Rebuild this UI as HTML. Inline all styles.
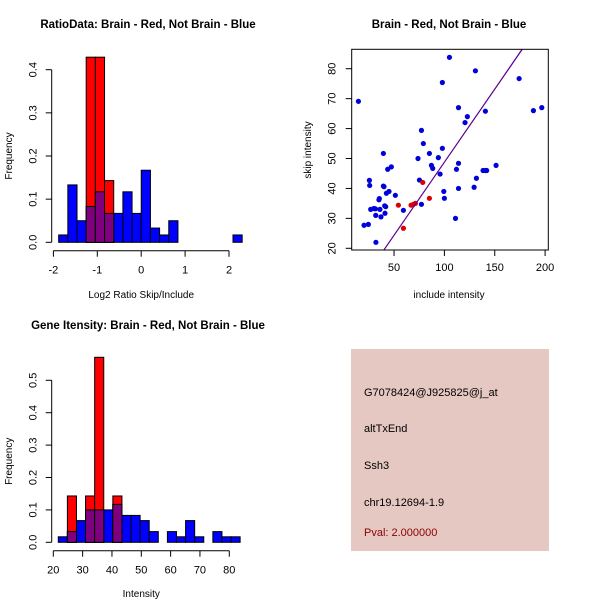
<!DOCTYPE html>
<html><head><meta charset="utf-8"><style>
body{margin:0;background:#fff;}
svg text{font-family:"Liberation Sans",sans-serif;}
</style></head><body>
<svg id="s" width="600" height="600" xmlns="http://www.w3.org/2000/svg">
<rect width="600" height="600" fill="#fff"/>
<g id="p1"></g>
<g id="p2"></g>
<g id="p3"></g>
<g>
<rect x="351" y="349" width="198" height="202" fill="#e6c8c2"/>
<text x="364" y="396" font-size="11">G7078424@J925825@j_at</text>
<text x="364" y="432" font-size="11">altTxEnd</text>
<text x="364" y="469" font-size="11">Ssh3</text>
<text x="364" y="506" font-size="11">chr19.12694-1.9</text>
<text x="364" y="536" font-size="11" fill="#8b0000">Pval: 2.000000</text>
</g>
</svg>
<script>
// Ratio histogram data
const ratioStart = -1.88, ratioWidth = 0.209;
const ratioBlue = [0.017,0.133,0.05,0.083,0.117,0.067,0.067,0.117,0.067,0.167,0.033,0.017,0.05,0,0,0,0,0,0,0.017];
const ratioRed = [0,0,0,0.429,0.429,0.143,0,0,0,0,0,0,0,0,0,0,0,0,0,0];
const ratioXTicks = [-2,-1,0,1,2];
const ratioYTicks = [0,0.1,0.2,0.3,0.4];
// Intensity histogram data
const intStart = 21.7, intWidth = 3.1;
const intBlue = [0.017,0.033,0.067,0.1,0.1,0.1,0.117,0.083,0.083,0.067,0.033,0,0.033,0.017,0.067,0.017,0,0.033,0.017,0.017];
const intRed = [0,0.143,0,0.143,0.571,0,0.143,0,0,0,0,0,0,0,0,0,0,0,0,0];
const intXTicks = [20,30,40,50,60,70,80];
const intYTicks = [0,0.1,0.2,0.3,0.4,0.5];
// Scatter data
const blueX = [14.6,32,20.2,24.5,25.5,25.8,26.8,31.5,31.8,35.4,36,37,39.4,39.4,40.7,41,41.7,42.4,43.7,45,47.3,51.3,59.3,73.8,75.2,77.2,77.2,79.1,85.1,87.1,88.4,94,95.7,98,98,99.4,100,105,111,112,114,114,114,120.5,122.8,129.5,130.8,131.8,138.4,140.7,142,140.7,151.3,174.2,188.4,196.7,35,40,30];
const blueY = [69.1,22,27.7,28,42.7,41,33,33.2,31,36.6,33,30.5,51.7,40.8,34.2,31.7,33.9,38.4,46.4,39,47.2,37.7,32.7,50,42.8,59.4,34.7,55,51.7,47.7,46.7,50.3,44.8,53.4,75.4,39,36.7,83.8,30,46.4,48.4,67,40,62,64,40.4,79.3,43.4,46,46,46,65.8,47.7,76.7,66,67,36.2,40.6,33.3];
const redX = [54.3,59.3,66.9,69.2,71.2,78.5,85.1];
const redY = [34.4,26.7,34.4,34.7,35,42,36.7];
const fitSlope = [0.4875, 0.4890];
const fitIntercept = [0.01, -0.1];
const scXTicks = [50,100,150,200];
const scYTicks = [20,30,40,50,60,70,80];

const NS="http://www.w3.org/2000/svg";
function mk(parent,tag,attrs,txt){const e=document.createElementNS(NS,tag);for(const k in attrs)e.setAttribute(k,attrs[k]);if(txt!==undefined)e.textContent=txt;parent.appendChild(e);return e;}

function hist(g,start,width,blue,red,xt,yt,xs,ys,xAxisY,yAxisX,title,xlab,titleY,xlabY){
  const X0=yAxisX;
  for(let i=0;i<blue.length;i++){
    const a=start+i*width,b=a+width;
    if(blue[i]>0){const r=mk(g,'rect',{x:xs(a),y:ys(blue[i]),width:xs(b)-xs(a),height:ys(0)-ys(blue[i]),fill:'#0000ff',stroke:'#000','stroke-width':1});
      
      }
  }
  for(let i=0;i<red.length;i++){
    const a=start+i*width,b=a+width;
    if(red[i]>0){const r=mk(g,'rect',{x:xs(a),y:ys(red[i]),width:xs(b)-xs(a),height:ys(0)-ys(red[i]),fill:'#ff0000',stroke:'#000','stroke-width':1});
      
      
      const m=Math.min(red[i],blue[i]);
      if(m>0){const o=mk(g,'rect',{x:xs(a),y:ys(m),width:xs(b)-xs(a),height:ys(0)-ys(m),fill:'#7f007f',stroke:'#000','stroke-width':1});
        
        }
    }
  }
  mk(g,'line',{x1:xs(xt[0]),x2:xs(xt[xt.length-1]),y1:xAxisY,y2:xAxisY,stroke:'#000'});
  xt.forEach(v=>{mk(g,'line',{x1:xs(v),x2:xs(v),y1:xAxisY,y2:xAxisY+6,stroke:'#000'});
    const t=mk(g,'text',{x:xs(v),y:xAxisY+23,'font-size':11,'text-anchor':'middle'},String(v));
    
    });
  mk(g,'line',{x1:X0,x2:X0,y1:ys(yt[0]),y2:ys(yt[yt.length-1]),stroke:'#000'});
  yt.forEach(v=>{mk(g,'line',{x1:X0,x2:X0-6,y1:ys(v),y2:ys(v),stroke:'#000'});
    const t=mk(g,'text',{x:X0-15,y:ys(v),'font-size':11,'text-anchor':'middle',transform:`rotate(-90 ${X0-15} ${ys(v)})`},v.toFixed(1));
    
    });
  const tt=mk(g,'text',{x:148,y:titleY,'font-size':11.5,'font-weight':'bold','text-anchor':'middle'},title);
  
  
  const xl=mk(g,'text',{x:xs((xt[0]+xt[xt.length-1])/2),y:xlabY,'font-size':10,'text-anchor':'middle'},xlab);
  
  
  const my=(ys(yt[0])+ys(yt[yt.length-1]))/2;
  const yl=mk(g,'text',{x:12,y:my,'font-size':10,'text-anchor':'middle',transform:`rotate(-90 12 ${my})`},'Frequency');
  
  
}

// plot 1
{const xs=v=>141.2+v*43.9, ys=v=>242.3-v*431.5;
 hist(document.getElementById('p1'),ratioStart,ratioWidth,ratioBlue,ratioRed,ratioXTicks,ratioYTicks,xs,ys,250.7,51.7,'RatioData: Brain - Red, Not Brain - Blue','Log2 Ratio Skip/Include',28,298);}
// plot 3
{const xs=v=>53.3+(v-20)*2.933, ys=v=>542.3-v*324;
 hist(document.getElementById('p3'),intStart,intWidth,intBlue,intRed,intXTicks,intYTicks,xs,ys,550.7,51.7,'Gene Itensity: Brain - Red, Not Brain - Blue','Intensity',329,597);}
// scatter
{const g=document.getElementById('p2');
 const xs=v=>343.7+v*1.007, ys=v=>248.3-(v-20)*2.993;
 const L=351.7,R=548.3,T=49.3,B=250;
 mk(g,'clipPath',{id:'clp'}).appendChild(document.createElementNS(NS,'rect'));
 const cr=g.querySelector('#clp rect');cr.setAttribute('x',L);cr.setAttribute('y',T);cr.setAttribute('width',R-L);cr.setAttribute('height',B-T);
 for(let i=0;i<blueX.length;i++){const c=mk(g,'circle',{cx:xs(blueX[i]),cy:ys(blueY[i]),r:2.6,fill:'#0000dd'});
   
   }
 for(let i=0;i<redX.length;i++){const c=mk(g,'circle',{cx:xs(redX[i]),cy:ys(redY[i]),r:2.6,fill:'#dd0000'});
   
   }
 const cols=['#3300cc','#660088'];
 for(let k=0;k<2;k++){const x1=0,x2=220;
   const l=mk(g,'line',{x1:xs(x1),y1:ys(fitIntercept[k]+fitSlope[k]*x1),x2:xs(x2),y2:ys(fitIntercept[k]+fitSlope[k]*x2),stroke:cols[k],'stroke-width':1,'clip-path':'url(#clp)'});
   
   }
 mk(g,'rect',{x:L,y:T,width:R-L,height:B-T,fill:'none',stroke:'#000'});
 scXTicks.forEach(v=>{mk(g,'line',{x1:xs(v),x2:xs(v),y1:B,y2:B+6,stroke:'#000'});
   const t=mk(g,'text',{x:xs(v),y:B+21,'font-size':11,'text-anchor':'middle'},String(v));
   
   });
 scYTicks.forEach(v=>{mk(g,'line',{x1:L,x2:L-6,y1:ys(v),y2:ys(v),stroke:'#000'});
   const t=mk(g,'text',{x:L-16,y:ys(v),'font-size':11,'text-anchor':'middle',transform:`rotate(-90 ${L-16} ${ys(v)})`},String(v));
   
   });
 const tt=mk(g,'text',{x:449,y:28,'font-size':11.5,'font-weight':'bold','text-anchor':'middle'},'Brain - Red, Not Brain - Blue');
 
 
 const xl=mk(g,'text',{x:449,y:298,'font-size':10,'text-anchor':'middle'},'include intensity');
 
 
 const yl=mk(g,'text',{x:311,y:150,'font-size':10,'text-anchor':'middle',transform:'rotate(-90 311 150)'},'skip intensity');
 
 
}
</script>
</body></html>
